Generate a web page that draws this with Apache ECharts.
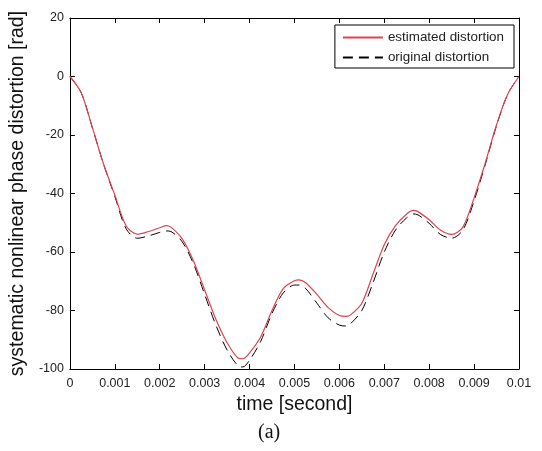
<!DOCTYPE html>
<html>
<head>
<meta charset="utf-8">
<script src="https://cdn.jsdelivr.net/npm/echarts@6/dist/echarts.min.js"></script>
<style>
html,body{margin:0;padding:0;background:#fff;}
#c{width:542px;height:451px;}
</style>
</head>
<body>
<div id="c"></div>
<script>
// time in milliseconds (converted to seconds below)
var timesMs = [0, 0.25, 0.5, 0.75, 1.0, 1.25, 1.5, 1.75, 2.0, 2.15, 2.25, 2.5, 2.75, 3.0, 3.25, 3.5, 3.75, 3.85, 4.0, 4.25, 4.5, 4.75, 5.0, 5.1, 5.25, 5.5, 5.75, 6.0, 6.15, 6.25, 6.5, 6.75, 7.0, 7.25, 7.5, 7.65, 7.75, 8.0, 8.25, 8.5, 8.75, 9.0, 9.25, 9.5, 9.75, 10];
var estimated = [0, -5.5, -17.5, -30, -40.5, -51, -53.9, -53.0, -51.7, -51.0, -51.5, -55.5, -63, -73, -83, -91, -96.3, -96.5, -94.5, -89, -80, -72.5, -69.8, -69.5, -70.5, -74.5, -79, -81.7, -82.0, -81.5, -77.5, -67.5, -57.5, -51, -47, -45.8, -46.2, -49, -52.5, -54, -51.5, -41.5, -29.5, -16.5, -6, 0];
var original = [0, -5.5, -17.5, -30, -41, -52, -55.3, -54.5, -53.3, -52.8, -53, -56.5, -64, -74.5, -85, -93.5, -99, -99.3, -97, -90.5, -81, -74, -71.3, -71.3, -72.5, -77.5, -82.5, -85, -85.3, -84.5, -80, -70.5, -60, -52.5, -48.3, -47, -47.3, -50.2, -54, -55.3, -52.5, -42.5, -30, -16.8, -6, 0];
var xTickLabels = ['0', '0.001', '0.002', '0.003', '0.004', '0.005', '0.006', '0.007', '0.008', '0.009', '0.01'];
var yTickLabels = ['-100', '-80', '-60', '-40', '-20', '0', '20'];
var seriesNames = ['estimated distortion', 'original distortion'];

function pairs(vals) {
  return timesMs.map(function (t, i) { return [t / 1000, vals[i]]; });
}

var chart = echarts.init(document.getElementById('c'), null, {renderer: 'canvas'});
var axisFont = {fontFamily: 'Liberation Sans, Arial, sans-serif', fontSize: 12.5, color: '#222'};
var baseX = {
  type: 'value', min: 0, max: 0.01, interval: 0.001,
  axisLine: {show: true, onZero: false, lineStyle: {color: '#000', width: 1}},
  axisTick: {show: true, inside: true, length: 5, lineStyle: {color: '#000'}},
  splitLine: {show: false}
};
var baseY = {
  type: 'value', min: -100, max: 20, interval: 20,
  axisLine: {show: true, onZero: false, lineStyle: {color: '#000', width: 1}},
  axisTick: {show: true, inside: true, length: 5, lineStyle: {color: '#000'}},
  splitLine: {show: false}
};

chart.setOption({
  animation: false,
  backgroundColor: '#fff',
  grid: {left: 68, right: 23, top: 18, bottom: 82, containLabel: false},
  legend: {
    data: seriesNames,
    orient: 'vertical',
    right: 28, top: 25,
    itemWidth: 40, itemHeight: 14, itemGap: 7,
    padding: [6, 10, 4, 7],
    backgroundColor: '#fff',
    borderColor: '#000', borderWidth: 1, borderRadius: 0,
    itemStyle: {opacity: 0},
    textStyle: {fontFamily: 'Liberation Sans, Arial, sans-serif', fontSize: 13.4, color: '#222'}
  },
  xAxis: [
    Object.assign({}, baseX, {
      position: 'bottom',
      name: 'time [second]', nameLocation: 'middle', nameGap: 26,
      nameTextStyle: {fontFamily: 'Liberation Sans, Arial, sans-serif', fontSize: 19.5, color: '#111'},
      axisLabel: Object.assign({}, axisFont, {margin: 8, formatter: function (v) {
        return xTickLabels[Math.round(v * 1000)];
      }})
    }),
    Object.assign({}, baseX, {position: 'top', axisLabel: {show: false}})
  ],
  yAxis: [
    Object.assign({}, baseY, {
      position: 'left',
      name: 'systematic nonlinear phase distortion [rad]', nameLocation: 'middle', nameGap: 32,
      nameTextStyle: {fontFamily: 'Liberation Sans, Arial, sans-serif', fontSize: 19.5, color: '#111'},
      axisLabel: Object.assign({}, axisFont, {margin: 6, formatter: function (v) {
        return yTickLabels[Math.round((v + 100) / 20)];
      }})
    }),
    Object.assign({}, baseY, {position: 'right', axisLabel: {show: false}})
  ],
  graphic: [{
    type: 'text', left: 258, top: 423,
    style: {text: '(a)', font: '20px "Liberation Serif", "Times New Roman", serif', fill: '#111'}
  }],
  series: [
    {
      name: seriesNames[1], type: 'line', data: pairs(original), smooth: 0.3,
      symbol: 'none', showSymbol: false,
      lineStyle: {color: '#000', width: 1, type: [10, 6]},
      itemStyle: {color: '#000'}, z: 2
    },
    {
      name: seriesNames[0], type: 'line', data: pairs(estimated), smooth: 0.3,
      symbol: 'none', showSymbol: false,
      lineStyle: {color: '#dd4450', width: 1.2},
      itemStyle: {color: '#dd4450'}, z: 3
    }
  ]
});
</script>
</body>
</html>
